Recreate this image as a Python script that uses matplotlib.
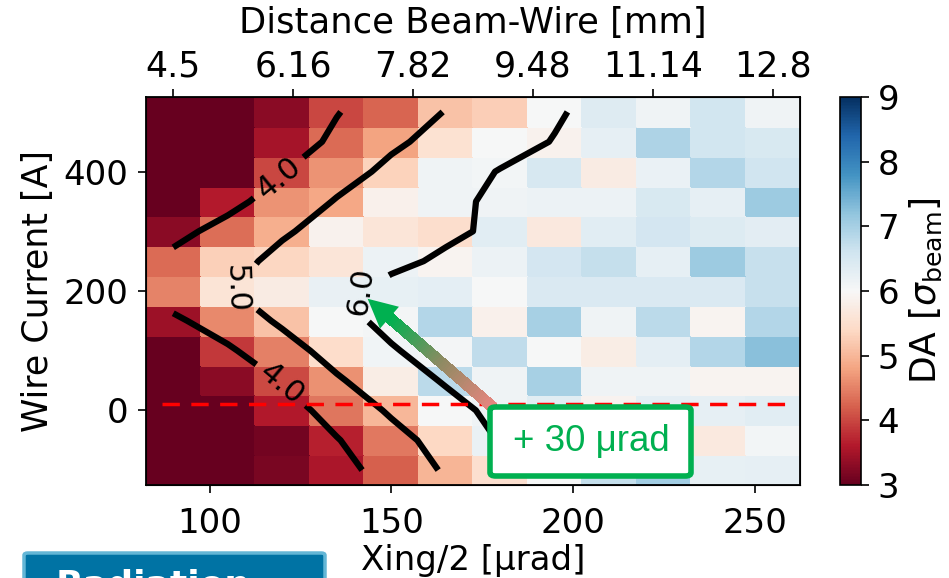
import numpy as np
import matplotlib
matplotlib.use('Agg')
import matplotlib.pyplot as plt
from matplotlib.collections import LineCollection
from matplotlib.colors import LinearSegmentedColormap
from matplotlib.patches import FancyBboxPatch

# ---------------- data ----------------
xing = [90, 105, 120, 135, 150, 165, 180, 195, 210, 225, 240, 255]          # Xing/2 [urad] (cell centres)
current = [500, 450, 400, 350, 300, 250, 200, 150, 100, 50, 0, -50, -100]    # wire current [A], top -> bottom

# DA [sigma] per cell, rows top (500 A) -> bottom (-100 A)
da = [
    [3.00, 3.00, 3.30, 4.00, 4.25, 5.12, 5.27, 6.02, 6.39, 6.13, 6.58, 6.13],
    [3.00, 3.00, 3.50, 4.30, 4.80, 5.55, 6.02, 5.87, 6.27, 6.92, 6.58, 6.47],
    [3.00, 3.00, 4.00, 4.65, 5.30, 6.13, 6.08, 6.50, 5.76, 6.20, 6.87, 6.60],
    [3.00, 3.62, 4.65, 4.85, 5.85, 6.12, 6.13, 6.17, 6.17, 6.47, 6.27, 7.09],
    [3.30, 4.33, 4.92, 5.87, 5.61, 5.47, 6.35, 5.68, 6.33, 6.56, 6.40, 6.32],
    [4.30, 5.28, 5.35, 5.61, 6.17, 5.91, 6.18, 6.55, 6.72, 6.27, 7.09, 6.69],
    [4.50, 5.60, 5.76, 6.22, 6.25, 6.30, 6.02, 6.45, 6.45, 6.45, 6.45, 6.69],
    [3.43, 4.56, 5.13, 6.00, 6.05, 6.87, 5.84, 7.00, 6.13, 6.80, 5.91, 6.87],
    [3.00, 3.89, 4.48, 5.45, 6.10, 6.05, 6.75, 6.00, 5.78, 6.30, 6.87, 7.25],
    [3.00, 3.30, 4.03, 4.63, 5.78, 6.80, 6.13, 7.00, 6.13, 6.13, 5.91, 5.91],
    [3.00, 3.00, 3.60, 4.40, 5.00, 6.00, 6.13, 6.35, 5.90, 6.30, 6.27, 6.35],
    [3.00, 3.00, 3.11, 3.67, 4.42, 5.38, 6.20, 6.30, 6.50, 6.10, 5.70, 6.08],
    [3.00, 3.00, 3.15, 3.55, 4.20, 4.98, 5.50, 6.02, 6.72, 7.05, 6.25, 6.27],
]

# smoothed (fitted) DA field used for the iso-DA contours, same grid
da_fit = [
    [3.00, 3.00, 3.43, 3.96, 4.50, 5.03, 5.46, 5.90, 6.33, 6.50, 6.60, 6.60],
    [3.00, 3.00, 3.51, 4.18, 4.85, 5.29, 5.66, 6.04, 6.40, 6.50, 6.60, 6.60],
    [3.00, 3.27, 3.95, 4.64, 5.20, 5.62, 6.04, 6.40, 6.50, 6.60, 6.60, 6.60],
    [3.02, 3.72, 4.42, 5.06, 5.43, 5.80, 6.16, 6.40, 6.50, 6.60, 6.60, 6.60],
    [3.72, 4.32, 4.92, 5.26, 5.55, 5.85, 6.15, 6.40, 6.50, 6.60, 6.60, 6.60],
    [4.24, 4.77, 5.18, 5.49, 5.81, 6.13, 6.35, 6.50, 6.50, 6.60, 6.60, 6.60],
    [4.50, 4.95, 5.35, 5.80, 6.25, 6.45, 6.50, 6.50, 6.50, 6.60, 6.60, 6.60],
    [3.83, 4.49, 5.13, 5.69, 6.24, 6.45, 6.50, 6.50, 6.50, 6.60, 6.60, 6.60],
    [3.06, 3.86, 4.65, 5.33, 5.92, 6.40, 6.50, 6.50, 6.50, 6.60, 6.60, 6.60],
    [3.00, 3.21, 4.06, 4.90, 5.51, 6.08, 6.40, 6.50, 6.50, 6.60, 6.60, 6.60],
    [3.00, 3.00, 3.58, 4.37, 5.12, 5.69, 6.25, 6.50, 6.50, 6.60, 6.60, 6.60],
    [3.00, 3.00, 3.24, 3.95, 4.67, 5.36, 6.05, 6.40, 6.50, 6.60, 6.60, 6.60],
    [3.00, 3.00, 3.00, 3.67, 4.38, 5.10, 5.85, 6.45, 6.50, 6.60, 6.60, 6.60],
]
contour_levels = [4.0, 5.0, 6.0]

# top axis: beam-wire distance
dist_tick_pos = [90, 123, 156, 189, 222, 255]
dist_tick_labels = ['4.5', '6.16', '7.82', '9.48', '11.14', '12.8']

x_ticks = [100, 150, 200, 250]
y_ticks = [0, 200, 400]
cbar_ticks = [3, 4, 5, 6, 7, 8, 9]

ref_current = 10            # dashed reference line
ref_x_range = [87, 260]
arrow_tail = (178, 5)
arrow_tip = (143.5, 187)
box_text = '+ 30 μrad'

# ---------------- figure ----------------
plt.rcParams['font.family'] = ['DejaVu Sans']
fig = plt.figure(figsize=(9.49, 5.78), dpi=100)
ax = fig.add_axes([146/949, 93/578, 654/949, 388/578])
cax = fig.add_axes([840/949, 93/578, 21/949, 388/578])

X = np.array(xing, float)
Y = np.array(current, float)[::-1]
Z = np.array(da, float)[::-1]
F = np.array(da_fit, float)[::-1]
dx = X[1] - X[0]
dy = Y[1] - Y[0]
xe = np.concatenate([X - dx/2, [X[-1] + dx/2]])
ye = np.concatenate([Y - dy/2, [Y[-1] + dy/2]])

mesh = ax.pcolormesh(xe, ye, Z, cmap='RdBu', vmin=3, vmax=9, shading='flat',
                     edgecolors='face', linewidth=0.2)
ax.set_xlim(xe[0], xe[-1])
ax.set_ylim(ye[0], ye[-1])

cs = ax.contour(X, Y, F, levels=contour_levels, colors='k', linewidths=4.5, zorder=3)
labels = ax.clabel(cs, inline=True, fmt='%1.1f', fontsize=22, inline_spacing=8,
                   manual=[(119, 390), (120, 45), (107, 205), (140, 200)])
for t in labels:
    if t.get_text() == '6.0':
        t.set_rotation(82)
    elif t.get_text() == '5.0':
        t.set_rotation(-88)

ax.plot(ref_x_range, [ref_current, ref_current], color='red', lw=2.5,
        dashes=(5, 3.3), zorder=4)

# gradient arrow
hl_frac = 0.17
tx, ty = arrow_tail
hx, hy = arrow_tip
bx = hx + (tx - hx) * hl_frac
by = hy + (ty - hy) * hl_frac
n = 50
xs = np.linspace(tx, bx, n + 1)
ys = np.linspace(ty, by, n + 1)
segs = [[(xs[i], ys[i]), (xs[min(i + 2, n)], ys[min(i + 2, n)])] for i in range(n)]
gcmap = LinearSegmentedColormap.from_list('g', ['#e8857f', '#8f8a62', '#00b050'])
lc = LineCollection(segs, colors=gcmap(np.linspace(0, 1, n)), linewidths=7.5,
                    capstyle='butt', antialiased=False, zorder=5)
ax.add_collection(lc)
ax.annotate('', xy=(hx, hy), xytext=(bx, by),
            arrowprops=dict(arrowstyle='-|>', color='#00b050', lw=0,
                            mutation_scale=52, shrinkA=0, shrinkB=0), zorder=6)

# annotation box
box = FancyBboxPatch((490/949, 1 - 476/578), 201/949, 69/578,
                     boxstyle='round,pad=0,rounding_size=0.006',
                     transform=fig.transFigure, facecolor='white',
                     edgecolor='#00b050', linewidth=4, zorder=10)
fig.patches.append(box)
fig.text(591/949, 1 - 441/578, box_text, color='#00b050', fontsize=26.5,
         family=['Liberation Sans', 'DejaVu Sans'], ha='center', va='center', zorder=11)

# axes styling
ax.set_xticks(x_ticks)
ax.set_yticks(y_ticks)
ax.tick_params(axis='x', labelsize=24.5, length=6, width=1.2, direction='out', pad=10)
ax.tick_params(axis='y', labelsize=24.5, length=6, width=1.2, direction='out', pad=6.5)
ax.set_xlabel('Xing/2 [μrad]', fontsize=24.5, labelpad=3)
ax.set_ylabel('Wire Current [A]', fontsize=25, labelpad=6)
for s in ax.spines.values():
    s.set_linewidth(1.3)

ax2 = ax.twiny()
ax2.set_xlim(ax.get_xlim())
ax2.set_xticks(dist_tick_pos)
ax2.set_xticklabels(dist_tick_labels)
ax2.tick_params(labelsize=25, length=6, width=1.2, direction='out', pad=3.5)
ax2.set_xlabel('Distance Beam-Wire [mm]', fontsize=25.5, labelpad=12)

cb = fig.colorbar(mesh, cax=cax, ticks=cbar_ticks)
cb.ax.tick_params(labelsize=24.5, length=6, width=1.2, pad=6)
cb.set_label(r'DA [$\sigma_{\rm beam}$]', fontsize=26, labelpad=6)
cb.outline.set_linewidth(1.2)

# cropped presentation button at bottom-left
btn = FancyBboxPatch((24/949, -0.05), 301/949, 0.05 + 1 - 553/578,
                     boxstyle='round,pad=0,rounding_size=0.004',
                     transform=fig.transFigure, facecolor='#0073a4',
                     edgecolor='#63b6d6', linewidth=2.5, zorder=10)
fig.patches.append(btn)
fig.text(56/949, 1 - 569/578, 'Radiation', color='white', fontsize=26,
         fontweight='bold', ha='left', va='top', zorder=11)

fig.savefig('out.png', dpi=100)
